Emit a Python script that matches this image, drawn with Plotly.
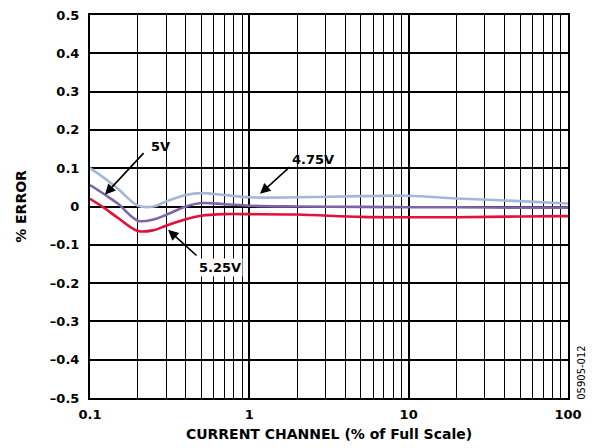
import plotly.graph_objects as go

# Data
x_vals = [0.1, 0.125, 0.15, 0.2, 0.25, 0.3, 0.4, 0.5, 0.7, 1, 2, 5, 10, 20, 50, 100]
v475 = [0.100, 0.072, 0.046, 0.002, 0.000, 0.013, 0.030, 0.035, 0.030, 0.024, 0.024, 0.027, 0.028, 0.021, 0.014, 0.008]
v5 = [0.056, 0.030, 0.007, -0.037, -0.034, -0.022, 0.000, 0.009, 0.006, 0.002, 0.000, -0.001, -0.002, -0.002, -0.003, -0.003]
v525 = [0.020, -0.006, -0.030, -0.064, -0.062, -0.050, -0.033, -0.024, -0.020, -0.020, -0.021, -0.027, -0.028, -0.028, -0.026, -0.025]

series_names = ["4.75V", "5V", "5.25V"]
series_colors = ["#a4b8d6", "#7f65a8", "#e3103c"]

y_tickvals = [-0.5, -0.4, -0.3, -0.2, -0.1, 0, 0.1, 0.2, 0.3, 0.4, 0.5]
y_ticktext = ["\u20130.5", "\u20130.4", "\u20130.3", "\u20130.2", "\u20130.1", "0", "0.1", "0.2", "0.3", "0.4", "0.5"]
x_tickvals = [0.1, 1, 10, 100]
x_ticktext = ["0.1", "1", "10", "100"]
x_minor = [m * d for d in (0.1, 1, 10) for m in range(2, 10)]

FONT = "DejaVu Sans, Arial, sans-serif"

fig = go.Figure()
for name, ys, col in zip(series_names, [v475, v5, v525], series_colors):
    fig.add_trace(go.Scatter(x=x_vals, y=ys, mode="lines", name=name,
                             line=dict(color=col, width=2.6, shape="spline", smoothing=1.0)))

# Labels and arrows
arrow_kw = dict(showarrow=True, arrowhead=2, arrowsize=1.3, arrowwidth=1.6, arrowcolor="black", text="")
fig.add_annotation(x=-0.906, y=0.031, ax=40, ay=-43, **arrow_kw)
fig.add_annotation(x=0.067, y=0.033, ax=31, ay=-28, **arrow_kw)
fig.add_annotation(x=-0.51, y=-0.061, ax=30, ay=27, **arrow_kw)

lbl_font = dict(family=FONT, size=13, color="black", weight="bold")
fig.add_annotation(x=-0.56, y=0.156, text="5V", showarrow=False, font=lbl_font)
fig.add_annotation(x=0.40, y=0.122, text="4.75V", showarrow=False, font=lbl_font)
fig.add_annotation(x=-0.184, y=-0.158, text="5.25V", showarrow=False, font=lbl_font,
                   bgcolor="white")
fig.add_annotation(xref="paper", yref="paper", x=1.029, y=0.068, text="05905-012",
                   xanchor="center", yanchor="middle",
                   textangle=-90, showarrow=False,
                   font=dict(family=FONT, size=10, color="black"))

fig.update_layout(
    width=587, height=440,
    margin=dict(l=82, r=27, t=7, b=50),
    paper_bgcolor="white", plot_bgcolor="white",
    showlegend=False,
    font=dict(family=FONT, color="black"),
)
fig.update_xaxes(
    type="log", range=[-1, 2], automargin=False, ticklabeloverflow="allow",
    tickmode="array", tickvals=x_tickvals, ticktext=x_ticktext,
    tickfont=dict(family=FONT, size=13, weight="bold"),
    showgrid=True, gridcolor="black", gridwidth=2,
    minor=dict(tickmode="array", tickvals=x_minor, showgrid=True, gridcolor="black", gridwidth=1.3, ticks=""),
    showline=True, linecolor="black", linewidth=2, mirror=True,
    ticks="outside", ticklen=3, tickcolor="rgba(0,0,0,0)",
    zeroline=False,
    title=dict(text="CURRENT CHANNEL (% of Full Scale)", standoff=9,
               font=dict(family=FONT, size=14, weight="bold")),
)
fig.update_yaxes(
    range=[-0.5, 0.5], automargin=False, ticklabeloverflow="allow",
    tickmode="array", tickvals=y_tickvals, ticktext=y_ticktext,
    tickfont=dict(family=FONT, size=13, weight="bold"),
    showgrid=True, gridcolor="black", gridwidth=1.5,
    showline=True, linecolor="black", linewidth=2, mirror=True,
    ticks="outside", ticklen=6, tickcolor="rgba(0,0,0,0)",
    zeroline=False,
    title=dict(text="% ERROR", standoff=20,
               font=dict(family=FONT, size=14, weight="bold")),
)

fig.write_html("out.html")
